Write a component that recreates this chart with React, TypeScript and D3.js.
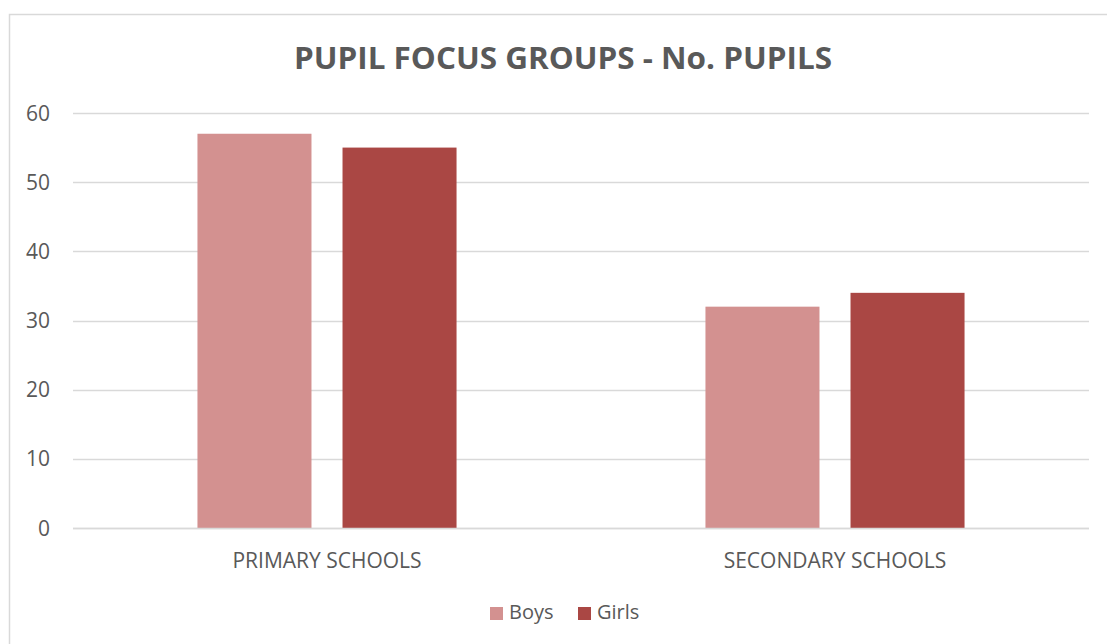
import React, { useEffect, useRef } from 'react';
import * as d3 from 'd3';

const categories = ['PRIMARY SCHOOLS', 'SECONDARY SCHOOLS'];
const seriesNames = ['Boys', 'Girls'];
const boys = [57, 32];
const girls = [55, 34];
const yTicks = [0, 10, 20, 30, 40, 50, 60];
const colors = ['#D39190', '#AA4744'];

export default function App() {
  const ref = useRef<SVGSVGElement>(null);

  useEffect(() => {
    const w = 1107;
    const h = 644;
    const svg = d3.select(ref.current);
    svg.selectAll('*').remove();

    const font = '"Open Sans", sans-serif';
    const textColor = '#595959';

    // chart frame
    svg.append('rect')
      .attr('x', 9.5).attr('y', 14.5)
      .attr('width', 1200).attr('height', 700)
      .attr('fill', '#fff')
      .attr('stroke', '#d9d9d9')
      .attr('stroke-width', 1.5);

    const left = 73;
    const right = 1089;
    const top = 113;
    const bottom = 528;

    const x0 = d3.scaleBand<string>()
      .domain(categories)
      .range([left, right])
      .padding(0);

    const x1 = d3.scaleBand<string>()
      .domain(seriesNames)
      .range([0, x0.bandwidth()])
      .paddingInner(0.214)
      .paddingOuter(0.858);

    const y = d3.scaleLinear()
      .domain([0, 60])
      .range([bottom, top]);

    // gridlines
    svg.append('g')
      .selectAll('line')
      .data(yTicks)
      .enter().append('line')
      .attr('x1', left).attr('x2', right)
      .attr('y1', d => Math.round(y(d)) + 0.5)
      .attr('y2', d => Math.round(y(d)) + 0.5)
      .attr('stroke', '#d9d9d9')
      .attr('stroke-width', 1.5);

    // y tick labels
    svg.append('g')
      .selectAll('text')
      .data(yTicks)
      .enter().append('text')
      .attr('x', 50)
      .attr('y', d => y(d))
      .attr('dy', '0.36em')
      .attr('text-anchor', 'end')
      .attr('font-family', font)
      .attr('font-size', 21)
      .attr('fill', textColor)
      .text(d => d);

    const rows = categories.map((c, i) => ({ cat: c, values: [boys[i], girls[i]] }));

    const groups = svg.append('g')
      .selectAll('g')
      .data(rows)
      .enter().append('g')
      .attr('transform', d => `translate(${x0(d.cat)},0)`);

    groups.selectAll('rect')
      .data(d => d.values.map((v, j) => ({ key: seriesNames[j], value: v, j })))
      .enter().append('rect')
      .attr('x', d => x1(d.key) as number)
      .attr('width', x1.bandwidth())
      .attr('y', d => y(d.value))
      .attr('height', d => y(0) - y(d.value))
      .attr('fill', d => colors[d.j]);

    // zero axis line drawn over bars
    svg.append('line')
      .attr('x1', left).attr('x2', right)
      .attr('y1', Math.round(y(0)) + 0.5).attr('y2', Math.round(y(0)) + 0.5)
      .attr('stroke', '#d9d9d9')
      .attr('stroke-width', 1.5);

    // category labels
    svg.append('g')
      .selectAll('text')
      .data(categories)
      .enter().append('text')
      .attr('x', d => (x0(d) as number) + x0.bandwidth() / 2)
      .attr('y', 568)
      .attr('text-anchor', 'middle')
      .attr('font-family', font)
      .attr('font-size', 21)
      .attr('fill', textColor)
      .text(d => d);

    // title
    svg.append('text')
      .attr('x', 563)
      .attr('y', 69)
      .attr('text-anchor', 'middle')
      .attr('font-family', font)
      .attr('font-weight', 'bold')
      .attr('font-size', 31)
      .attr('textLength', 538)
      .attr('lengthAdjust', 'spacingAndGlyphs')
      .attr('fill', textColor)
      .text('PUPIL FOCUS GROUPS - No. PUPILS');

    // legend
    const legendX = [490, 578];
    const legend = svg.append('g')
      .selectAll('g')
      .data(seriesNames)
      .enter().append('g')
      .attr('transform', (d, i) => `translate(${legendX[i]},607)`);

    legend.append('rect')
      .attr('width', 13).attr('height', 13)
      .attr('fill', (d, i) => colors[i]);

    legend.append('text')
      .attr('x', 19)
      .attr('y', 12)
      .attr('font-family', font)
      .attr('font-size', 20)
      .attr('fill', textColor)
      .text(d => d);
  }, []);

  return (
    <svg
      ref={ref}
      width={1107}
      height={644}
      style={{ position: 'absolute', left: 0, top: 0, overflow: 'hidden' }}
    />
  );
}
